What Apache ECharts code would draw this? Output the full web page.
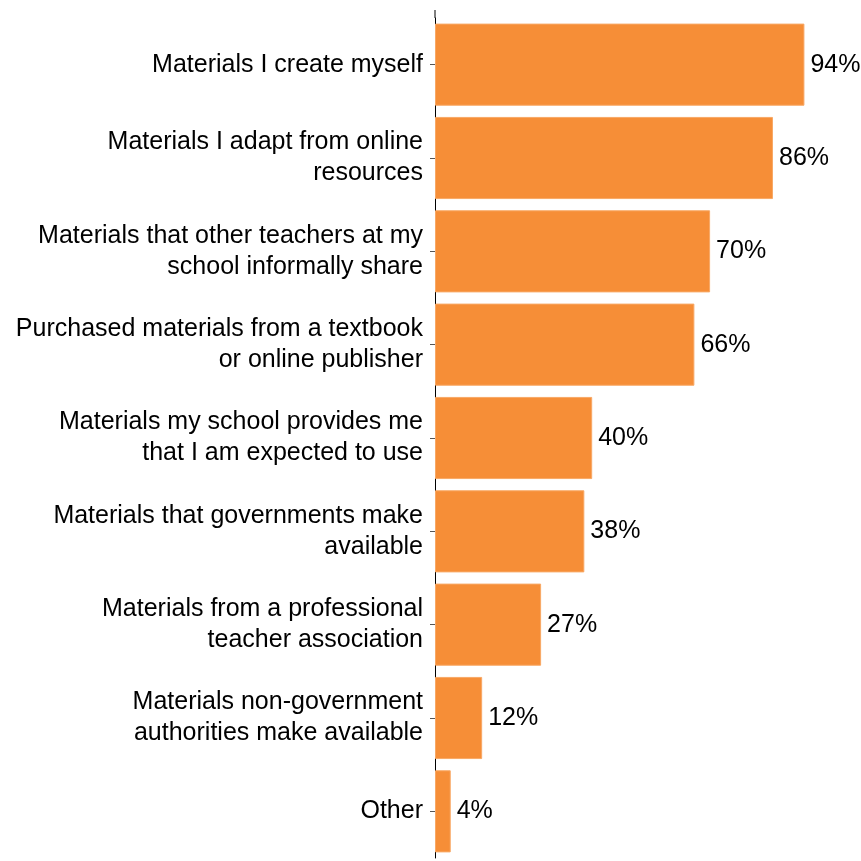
<!DOCTYPE html>
<html>
<head>
<meta charset="utf-8">
<script src="https://cdn.jsdelivr.net/npm/echarts@6/dist/echarts.min.js"></script>
<style>
  html, body { margin: 0; padding: 0; background: #ffffff; }
  #chart { width: 861px; height: 861px; }
</style>
</head>
<body>
<div id="chart"></div>
<script>
// Sources of teaching materials, top to bottom
const categories = [
  'Materials I create myself',
  'Materials I adapt from online\nresources',
  'Materials that other teachers at my\nschool informally share',
  'Purchased materials from a textbook\nor online publisher',
  'Materials my school provides me\nthat I am expected to use',
  'Materials that governments make\navailable',
  'Materials from a professional\nteacher association',
  'Materials non-government\nauthorities make available',
  'Other'
];
// Share of respondents (%)
const shares = [94, 86, 70, 66, 40, 38, 27, 12, 4];

const FONT = 'Arial, "Liberation Sans", sans-serif';
const chart = echarts.init(document.getElementById('chart'), null, { renderer: 'canvas' });

chart.setOption({
  animation: false,
  backgroundColor: '#ffffff',
  grid: { left: 435, right: 33, top: 18, bottom: 3, containLabel: false },
  xAxis: {
    type: 'value',
    min: 0,
    max: 100,
    show: false
  },
  yAxis: {
    type: 'category',
    data: categories,
    inverse: true,
    axisLine: { show: true, lineStyle: { color: '#000000', width: 1 } },
    axisTick: { show: true, alignWithLabel: true, length: 5, lineStyle: { color: '#555555' } },
    axisLabel: {
      margin: 12,
      color: '#000000',
      fontFamily: FONT,
      fontSize: 25,
      lineHeight: 31,
      align: 'right'
    },
    splitLine: { show: false }
  },
  series: [{
    type: 'bar',
    data: shares,
    barCategoryGap: '12%',
    itemStyle: { color: '#F68E37', borderColor: '#F8A865', borderWidth: 1 },
    label: {
      show: true,
      position: 'right',
      distance: 6,
      formatter: p => p.value + '%',
      color: '#000000',
      fontFamily: FONT,
      fontSize: 25
    }
  }],
  graphic: [{
    // axis line runs slightly above the plotting area
    type: 'line',
    shape: { x1: 435, y1: 10, x2: 435, y2: 18 },
    style: { stroke: '#000000', lineWidth: 1 }
  }]
});
</script>
</body>
</html>
